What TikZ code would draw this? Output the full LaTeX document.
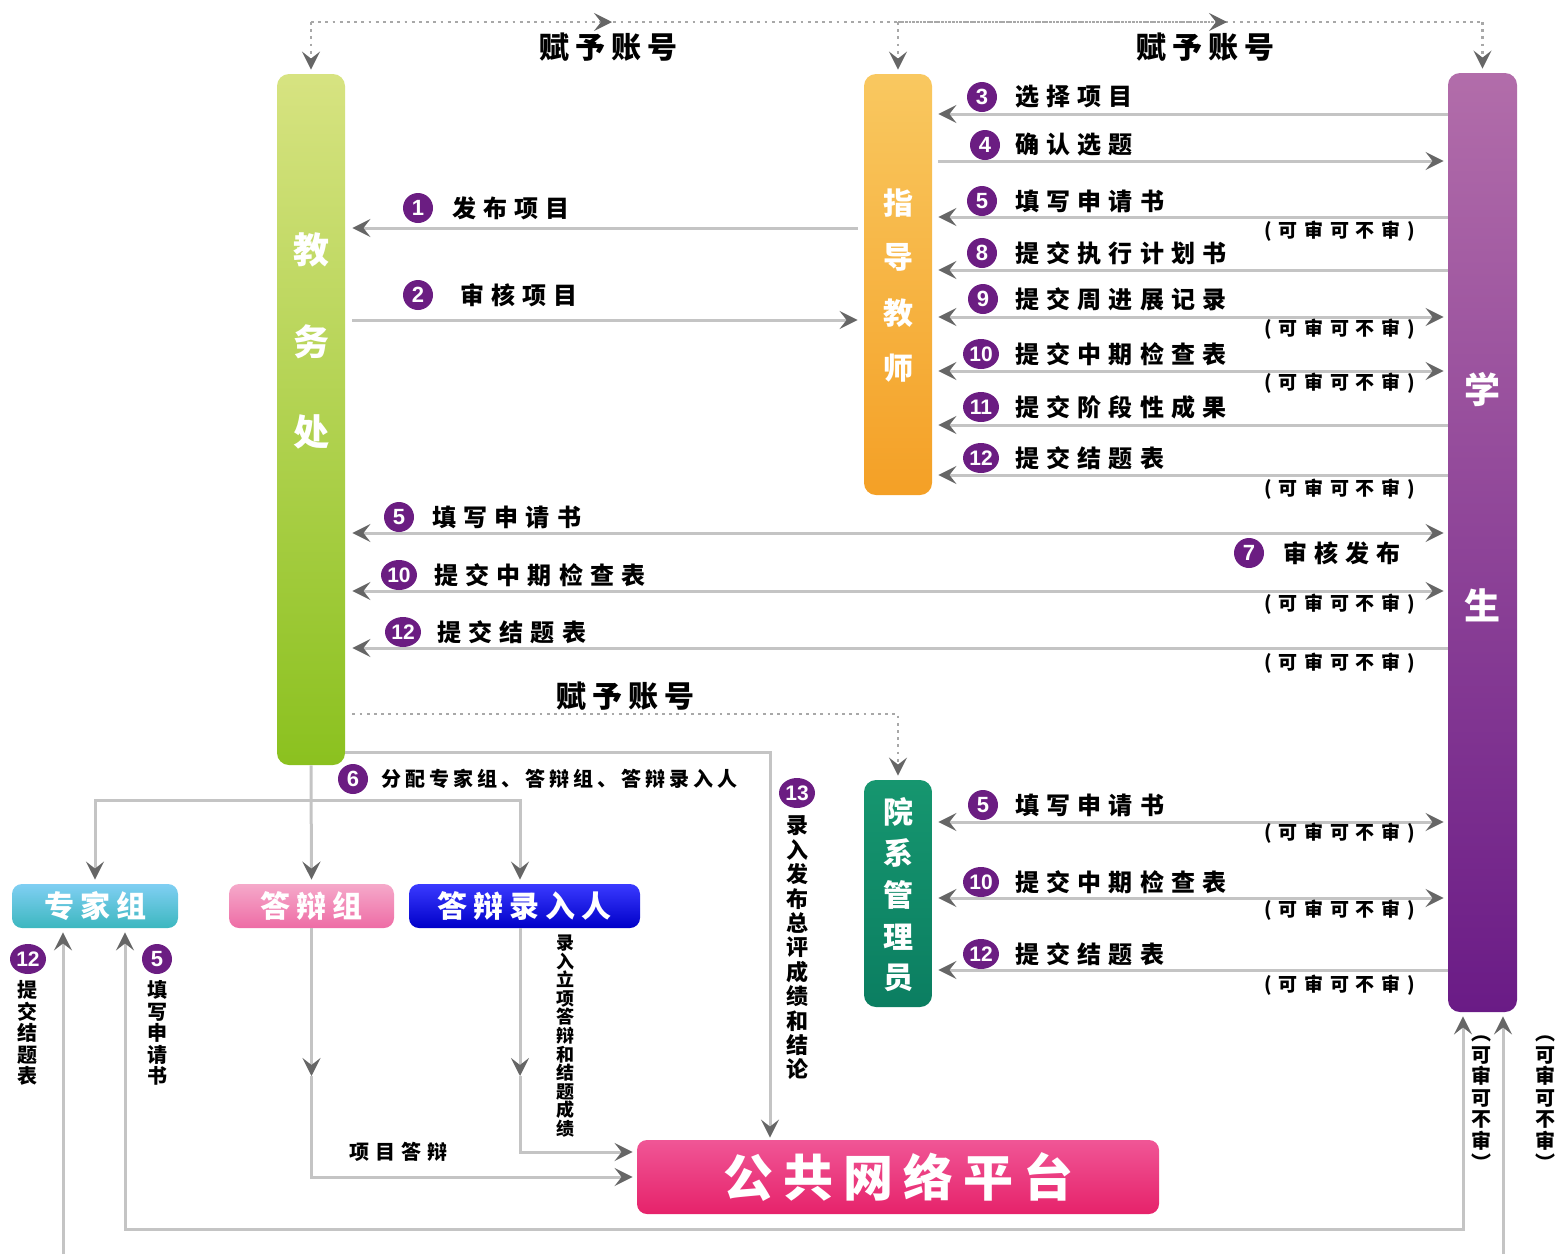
\documentclass[tikz,border=0pt]{standalone}
\usepackage{fontspec}
\setmainfont{Liberation Sans}
\newfontfamily\cjk{Noto Sans CJK SC}
\newfontfamily\cjkA{Noto Sans CJK SC}[LetterSpace=30]
\newfontfamily\cjkB{Noto Sans CJK SC}[LetterSpace=35]
\newfontfamily\cjkC{Noto Sans CJK SC}[LetterSpace=20]
\usetikzlibrary{arrows.meta,shapes.geometric,calc}
\definecolor{bpurple}{HTML}{6B1D82}
\definecolor{lgray}{HTML}{C4C4C4}
\definecolor{agray}{HTML}{666666}
\definecolor{dotgray}{HTML}{A8A8A8}
\definecolor{jwtop}{HTML}{D7E381}
\definecolor{jwbot}{HTML}{8BC11F}
\definecolor{zdtop}{HTML}{F9C860}
\definecolor{zdbot}{HTML}{F4A026}
\definecolor{xstop}{HTML}{B26DAA}
\definecolor{xsbot}{HTML}{6A1B86}
\definecolor{yxtop}{HTML}{16966F}
\definecolor{yxbot}{HTML}{0B7E61}
\definecolor{zjtop}{HTML}{80CFF3}
\definecolor{zjbot}{HTML}{3CB7BF}
\definecolor{dbtop}{HTML}{F5A9CA}
\definecolor{dbbot}{HTML}{EE6CA5}
\definecolor{lrtop}{HTML}{3A3AFF}
\definecolor{lrbot}{HTML}{0000C8}
\definecolor{ggtop}{HTML}{F05696}
\definecolor{ggbot}{HTML}{E6226A}
\tikzset{gtip/.tip={Stealth[length=9pt,width=9pt,inset=3.5pt,color=agray]}}
\begin{document}
\begin{tikzpicture}[x=0.5pt,y=-0.5pt,
  bar/.style={rounded corners=6pt, minimum width=34pt, inner sep=0pt, draw=none},
  boxn/.style={rounded corners=5pt, minimum height=22pt, inner sep=0pt, text=white,
    font=\cjkC\bfseries\fontsize{15}{15}\selectfont},
  bigch/.style={text=white, inner sep=0pt, font=\cjk\bfseries\fontsize{18}{18}\selectfont},
  midch/.style={text=white, inner sep=0pt, font=\cjk\bfseries\fontsize{15}{15}\selectfont},
  lab/.style={anchor=west, inner sep=0pt, font=\cjkA\bfseries\fontsize{12}{14}\selectfont},
  slab/.style={anchor=west, inner sep=0pt, font=\cjkA\bfseries\fontsize{10}{12}\selectfont},
  note/.style={anchor=east, inner sep=0pt, font=\cjkB\bfseries\fontsize{9.5}{11}\selectfont},
  acct/.style={inner sep=0pt, font=\cjkC\bfseries\fontsize{15}{15}\selectfont},
  badge/.style={circle, fill=bpurple, text=white, minimum size=15pt, inner sep=0pt,
    font=\bfseries\fontsize{11}{11}\selectfont},
  badgew/.style={ellipse, fill=bpurple, text=white, minimum width=18pt, minimum height=15pt,
    inner sep=0pt, font=\bfseries\fontsize{10.5}{10.5}\selectfont},
  gline/.style={draw=lgray, line width=1.5pt},
  dline/.style={draw=dotgray, line width=1.2pt, dash pattern=on 1.4pt off 2.2pt},
  vt/.style={align=center, inner sep=0pt}
]
\useasboundingbox (0,0) rectangle (1559,1254);

% ---------- bars and boxes ----------
\node[bar, minimum height=345.5pt, top color=jwtop, bottom color=jwbot] (jw) at (311,419.5) {};
\node[bar, minimum height=210.5pt, top color=zdtop, bottom color=zdbot] (zd) at (898,284.5) {};
\node[bar, minimum width=34.5pt, minimum height=469.5pt, top color=xstop, bottom color=xsbot] (xs) at (1482.5,542.5) {};
\node[bar, minimum height=113.5pt, top color=yxtop, bottom color=yxbot] (yx) at (898,893.5) {};
\node[boxn, minimum width=83pt, top color=zjtop, bottom color=zjbot] (zj) at (95,906) {专家组};
\node[boxn, minimum width=82.5pt, top color=dbtop, bottom color=dbbot] (db) at (311.5,906) {答辩组};
\node[boxn, minimum width=115.5pt, top color=lrtop, bottom color=lrbot] (lr) at (524.5,906) {答辩录入人};
\node[boxn, minimum width=261pt, minimum height=37pt, top color=ggtop, bottom color=ggbot,
  font=\cjkC\bfseries\fontsize{25}{25}\selectfont] (gg) at (898,1177) {公共网络平台};

% bar texts
\node[bigch] (jw1) at (311,250) {教};
\node[bigch] (jw2) at (311,342) {务};
\node[bigch] (jw3) at (311,432) {处};
\node[midch] (zd1) at (898,203) {指};
\node[midch] (zd2) at (898,257) {导};
\node[midch] (zd3) at (898,313) {教};
\node[midch] (zd4) at (898,368) {师};
\node[bigch] (xs1) at (1482,390) {学};
\node[bigch] (xs2) at (1482,605) {生};
\node[midch] (yx1) at (898,812) {院};
\node[midch] (yx2) at (898,853) {系};
\node[midch] (yx3) at (898,895) {管};
\node[midch] (yx4) at (898,937) {理};
\node[midch] (yx5) at (898,978) {员};

% helper coordinates
\coordinate (jwR) at ([xshift=3.5pt]jw.east);
\coordinate (zdL) at ([xshift=-3pt]zd.west);
\coordinate (zdR) at ([xshift=3pt]zd.east);
\coordinate (yxR) at ([xshift=3pt]yx.east);
\coordinate (xsL) at ([xshift=-2pt]xs.west);

% ---------- top dotted account lines ----------
\coordinate (t1) at (308,22);
\coordinate (m1) at (612,22);
\coordinate (m2) at (1227,22);
\draw[dline] (jw.north |- t1) -- (xs.north |- t1);
\draw[dline,-{gtip}] (jw.north |- t1) -- (m1);
\draw[dline,-{gtip}] (zd.north |- t1) -- (m2);
\draw[dline,-{gtip}] (jw.north |- t1) -- ([yshift=2pt]jw.north);
\draw[dline,-{gtip}] (zd.north |- t1) -- ([yshift=2pt]zd.north);
\draw[dline,-{gtip}] (xs.north |- t1) -- ([yshift=2pt]xs.north);
\node[acct] (a1) at (608,47) {赋予账号};
\node[acct] (a2) at (1205,47) {赋予账号};

% ---------- teacher <-> student ----------
\draw[gline,-{gtip}] (xs.west |- 0,114) -- (zdR |- 0,114);
\draw[gline,-{gtip}] (zdR |- 0,161) -- (xsL |- 0,161);
\draw[gline,-{gtip}] (xs.west |- 0,217) -- (zdR |- 0,217);
\draw[gline,-{gtip}] (xs.west |- 0,270) -- (zdR |- 0,270);
\draw[gline,{gtip}-{gtip}] (zdR |- 0,317) -- (xsL |- 0,317);
\draw[gline,{gtip}-{gtip}] (zdR |- 0,371) -- (xsL |- 0,371);
\draw[gline,-{gtip}] (xs.west |- 0,425) -- (zdR |- 0,425);
\draw[gline,-{gtip}] (xs.west |- 0,475) -- (zdR |- 0,475);

\node[badge] (n3) at (982,97) {3};
\node[lab] (l3) at (1015,97) {选择项目};
\node[badge] (n4) at (985,145) {4};
\node[lab] (l4) at (1015,145) {确认选题};
\node[badge] (n5a) at (982,201) {5};
\node[lab] (l5a) at (1015,201) {填写申请书};
\node[note] (q5a) at (1415,231) {(可审可不审)};
\node[badge] (n8) at (982,253) {8};
\node[lab] (l8) at (1015,253) {提交执行计划书};
\node[badge] (n9) at (983,299) {9};
\node[lab] (l9) at (1015,299) {提交周进展记录};
\node[note] (q9) at (1415,329) {(可审可不审)};
\node[badgew] (n10a) at (981,354) {10};
\node[lab] (l10a) at (1015,354) {提交中期检查表};
\node[note] (q10a) at (1415,383) {(可审可不审)};
\node[badgew] (n11) at (981,407) {11};
\node[lab] (l11) at (1015,407) {提交阶段性成果};
\node[badgew] (n12a) at (981,458) {12};
\node[lab] (l12a) at (1015,458) {提交结题表};
\node[note] (q12a) at (1415,489) {(可审可不审)};

% ---------- office <-> teacher ----------
\draw[gline,-{gtip}] (zdL |- 0,228) -- (jwR |- 0,228);
\draw[gline,-{gtip}] (jwR |- 0,320) -- (zdL |- 0,320);
\node[badge] (n1) at (418,208) {1};
\node[lab] (l1) at (452,208) {发布项目};
\node[badge] (n2) at (418,295) {2};
\node[lab] (l2) at (460,295) {审核项目};

% ---------- office <-> student ----------
\draw[gline,{gtip}-{gtip}] (jwR |- 0,533) -- (xsL |- 0,533);
\draw[gline,{gtip}-{gtip}] (jwR |- 0,591) -- (xsL |- 0,591);
\draw[gline,-{gtip}] (xs.west |- 0,648) -- (jwR |- 0,648);
\node[badge] (n5b) at (399,517) {5};
\node[lab] (l5b) at (432,517) {填写申请书};
\node[badge] (n7) at (1249,553) {7};
\node[lab] (l7) at (1283,553) {审核发布};
\node[badgew] (n10b) at (399,575) {10};
\node[lab] (l10b) at (434,575) {提交中期检查表};
\node[note] (q10b) at (1415,604) {(可审可不审)};
\node[badgew] (n12b) at (403,632) {12};
\node[lab] (l12b) at (437,632) {提交结题表};
\node[note] (q12b) at (1415,663) {(可审可不审)};

% ---------- account to department admin ----------
\draw[dline,-{gtip}] (jwR |- 0,714) -- (yx.north |- 0,714) -- ([yshift=2pt]yx.north);
\node[acct] (a3) at (625,696) {赋予账号};

% ---------- admin <-> student ----------
\draw[gline,{gtip}-{gtip}] (yxR |- 0,822) -- (xsL |- 0,822);
\draw[gline,{gtip}-{gtip}] (yxR |- 0,898) -- (xsL |- 0,898);
\draw[gline,-{gtip}] (xs.west |- 0,970) -- (yxR |- 0,970);
\node[badge] (n5c) at (983,805) {5};
\node[lab] (l5c) at (1015,805) {填写申请书};
\node[note] (q5c) at (1415,833) {(可审可不审)};
\node[badgew] (n10c) at (981,882) {10};
\node[lab] (l10c) at (1015,882) {提交中期检查表};
\node[note] (q10c) at (1415,910) {(可审可不审)};
\node[badgew] (n12c) at (981,954) {12};
\node[lab] (l12c) at (1015,954) {提交结题表};
\node[note] (q12c) at (1415,985) {(可审可不审)};

% ---------- 13: office -> platform ----------
\coordinate (c13) at (770,752);
\draw[gline,-{gtip},shorten >=1pt] (jw.east |- c13) -- (c13) -- (c13 |- gg.north);
\node[badgew] (n13) at (797,793) {13};
\node[vt, font=\cjk\bfseries\fontsize{11}{12.2}\selectfont] (v13) at (797,948)
  {录\\入\\发\\布\\总\\评\\成\\绩\\和\\结\\论};

% ---------- 6: distribution ----------
\coordinate (h6) at (0,800);
\coordinate (lrx) at (520,0);
\draw[gline,-{gtip},shorten >=2pt] (jw.south) -- (db.north);
\draw[gline,-{gtip},shorten >=2pt] (jw.south |- h6) -- (zj.north |- h6) -- (zj.north);
\draw[gline,-{gtip},shorten >=2pt] (jw.south |- h6) -- (lrx |- h6) -- (lrx |- lr.north);
\node[badge] (n6) at (353,779) {6};
\node[slab, font=\cjkC\bfseries\fontsize{10}{12}\selectfont] (l6) at (381,779) {分配专家组、答辩组、答辩录入人};

% ---------- defence group / recorder -> platform ----------
\coordinate (k1) at (0,1076);
\coordinate (k2) at (0,1152);
\draw[gline,-{gtip}] (db.south) -- (db.south |- k1);
\draw[gline,-{gtip},shorten >=2pt] (db.south |- k1) -- (db.south |- gg.west) -- (gg.west);
\draw[gline,-{gtip}] (lrx |- lr.south) -- (lrx |- k1);
\draw[gline,-{gtip},shorten >=2pt] (lrx |- k1) -- (lrx |- k2) -- (gg.west |- k2);
\node[slab, anchor=center] (l14) at (398,1152) {项目答辩};
\node[vt, font=\cjk\bfseries\fontsize{9}{9.3}\selectfont] (v15) at (565,1036)
  {录\\入\\立\\项\\答\\辩\\和\\结\\题\\成\\绩};

% ---------- bottom loops: student <-> expert group ----------
\coordinate (b1R) at (1463,1229);
\coordinate (b1L) at (125,1229);
\coordinate (b2R) at (1503,1254);
\coordinate (b2L) at (63,1254);
\draw[gline,{gtip}-{gtip},shorten <=2pt,shorten >=2pt] (b1L |- zj.south) -- (b1L) -- (b1R) -- (b1R |- xs.south);
\draw[gline,-{gtip},shorten >=2pt] (b2L) -- (b2L |- zj.south);
\draw[gline,-{gtip},shorten >=2pt] (b2R) -- (b2R |- xs.south);

\node[badgew] (n12d) at (28,959) {12};
\node[vt, font=\cjk\bfseries\fontsize{10}{10.8}\selectfont] (v12d) at (28,1033)
  {提\\交\\结\\题\\表};
\node[badge] (n5d) at (157,959) {5};
\node[vt, font=\cjk\bfseries\fontsize{10}{10.8}\selectfont] (v5d) at (157,1033)
  {填\\写\\申\\请\\书};
\node[vt, font=\cjk\bfseries\fontsize{10}{10.8}\selectfont] (vq1) at (1481,1103)
  {︵\\可\\审\\可\\不\\审\\︶};
\node[vt, font=\cjk\bfseries\fontsize{10}{10.8}\selectfont] (vq2) at (1545,1103)
  {︵\\可\\审\\可\\不\\审\\︶};
\end{tikzpicture}
\end{document}
